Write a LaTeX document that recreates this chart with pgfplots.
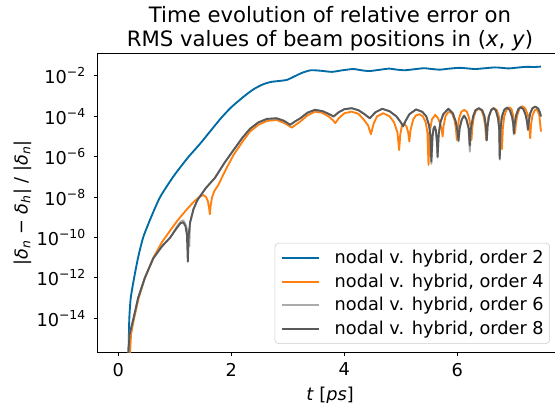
\documentclass[border=0pt]{standalone}
\usepackage{fontspec}
\setmainfont{DejaVu Sans}
\usepackage{pgfplots}
\usepackage{pgfplotstable}
\pgfplotsset{compat=1.18}
\definecolor{cA}{HTML}{006BA4}
\definecolor{cB}{HTML}{FF800E}
\definecolor{cC}{HTML}{ABABAB}
\definecolor{cD}{HTML}{595959}

% log10 of the relative error
\pgfplotstableread{
t L
0.178 -16.5
0.185 -15.2
0.195 -14.0
0.22 -13.0
0.28 -12.0
0.35 -11.0
0.44 -10.0
0.58 -9.0
0.74 -8.0
0.97 -7.0
1.23 -6.05
1.45 -5.35
1.80 -4.15
2.00 -3.55
2.24 -2.98
2.40 -2.65
2.56 -2.42
2.70 -2.30
2.85 -2.25
2.98 -2.20
3.10 -2.05
3.25 -1.85
3.41 -1.72
3.60 -1.75
3.78 -1.80
3.97 -1.72
4.16 -1.66
4.30 -1.72
4.44 -1.76
4.62 -1.70
4.79 -1.64
4.93 -1.69
5.07 -1.72
5.24 -1.67
5.41 -1.62
5.55 -1.66
5.69 -1.69
5.86 -1.64
6.04 -1.60
6.18 -1.63
6.32 -1.66
6.49 -1.62
6.66 -1.58
6.78 -1.60
6.91 -1.63
7.06 -1.59
7.22 -1.55
7.35 -1.56
7.48 -1.54
}\ordtwo

\pgfplotstableread{
t L
0.205 -16.5
0.212 -15.5
0.225 -14.8
0.28 -14.0
0.36 -13.0
0.47 -12.0
0.62 -11.0
0.78 -10.2
0.92 -9.65
1.05 -9.15
1.20 -8.65
1.33 -8.25
1.43 -8.0
1.50 -7.9
1.55 -7.98
1.585 -8.2
1.61 -8.6
1.62 -8.85
1.635 -8.4
1.66 -8.0
1.70 -7.7
1.77 -7.4
1.90 -6.65
2.04 -5.91
2.20 -5.25
2.33 -4.76
2.48 -4.42
2.63 -4.23
2.80 -4.18
2.95 -4.35
3.07 -4.56
3.15 -4.4
3.22 -4.26
3.35 -3.95
3.48 -3.77
3.60 -3.82
3.72 -4.0
3.80 -4.2
3.84 -4.34
3.90 -4.1
4.00 -3.85
4.13 -3.77
4.25 -3.88
4.34 -4.15
4.42 -4.45
4.47 -4.89
4.52 -4.35
4.58 -4.0
4.69 -3.85
4.80 -4.0
4.88 -4.3
4.94 -4.8
4.97 -5.67
4.99 -4.9
5.02 -4.45
5.05 -4.35
5.10 -4.5
5.13 -4.8
5.15 -5.25
5.17 -4.7
5.22 -4.15
5.27 -3.95
5.33 -3.9
5.39 -4.0
5.44 -4.3
5.47 -4.8
5.49 -6.41
5.51 -4.8
5.55 -4.15
5.61 -3.93
5.66 -4.1
5.70 -4.4
5.725 -4.7
5.74 -5.0
5.755 -4.5
5.79 -4.0
5.83 -3.82
5.87 -3.78
5.91 -3.88
5.95 -4.2
5.975 -4.6
5.99 -5.17
6.005 -4.6
6.03 -4.1
6.07 -3.78
6.12 -3.68
6.17 -3.78
6.21 -4.1
6.235 -4.55
6.25 -5.17
6.265 -4.55
6.29 -4.05
6.33 -3.72
6.38 -3.63
6.43 -3.72
6.47 -4.05
6.495 -4.55
6.51 -5.17
6.525 -4.55
6.55 -4.05
6.60 -3.7
6.65 -3.6
6.70 -3.7
6.74 -4.05
6.77 -4.6
6.79 -5.63
6.805 -4.6
6.83 -4.0
6.87 -3.68
6.92 -3.55
6.96 -3.65
6.99 -4.0
7.005 -4.4
7.02 -4.84
7.035 -4.4
7.06 -3.95
7.10 -3.62
7.15 -3.5
7.20 -3.6
7.25 -3.95
7.27 -4.4
7.29 -5.09
7.305 -4.4
7.33 -3.95
7.37 -3.7
7.41 -3.65
7.45 -3.95
7.48 -4.76
}\ordfour

\pgfplotstableread{
t L
0.175 -16.5
0.182 -15.5
0.20 -14.8
0.27 -14.0
0.35 -13.0
0.47 -12.0
0.62 -11.03
0.77 -10.45
0.92 -10.0
1.03 -9.5
1.10 -9.22
1.15 -9.15
1.19 -9.35
1.225 -9.7
1.245 -9.95
1.257 -10.45
1.27 -9.3
1.33 -8.6
1.40 -8.15
1.55 -7.55
1.71 -7.05
1.88 -6.3
2.04 -5.67
2.20 -5.05
2.33 -4.62
2.48 -4.3
2.63 -4.13
2.80 -4.1
2.93 -4.22
3.04 -4.42
3.13 -4.25
3.22 -4.1
3.35 -3.82
3.48 -3.68
3.62 -3.75
3.72 -3.88
3.81 -4.01
3.90 -3.8
4.00 -3.65
4.13 -3.6
4.25 -3.7
4.35 -3.88
4.45 -4.1
4.55 -3.8
4.67 -3.63
4.80 -3.75
4.92 -4.0
5.00 -4.3
5.04 -4.5
5.08 -4.25
5.15 -3.9
5.27 -3.66
5.38 -3.78
5.45 -4.0
5.50 -4.45
5.525 -5.0
5.54 -6.35
5.56 -5.0
5.58 -4.6
5.60 -4.5
5.62 -4.7
5.64 -5.3
5.65 -6.05
5.67 -4.9
5.70 -4.3
5.75 -3.9
5.84 -3.63
5.92 -3.85
5.97 -4.25
6.00 -4.7
6.02 -5.25
6.04 -4.6
6.08 -4.15
6.12 -3.97
6.16 -4.15
6.20 -4.6
6.22 -5.75
6.24 -4.6
6.28 -4.0
6.32 -3.7
6.38 -3.6
6.44 -3.7
6.48 -4.0
6.505 -4.5
6.52 -5.2
6.535 -4.5
6.56 -4.0
6.60 -3.68
6.64 -3.6
6.68 -3.7
6.72 -4.1
6.74 -4.6
6.75 -6.15
6.765 -4.6
6.79 -4.0
6.83 -3.68
6.88 -3.57
6.93 -3.7
6.97 -4.05
6.99 -4.4
7.00 -4.9
7.015 -4.35
7.04 -3.95
7.08 -3.64
7.12 -3.55
7.17 -3.65
7.21 -3.95
7.235 -4.3
7.25 -4.7
7.265 -4.25
7.29 -3.85
7.33 -3.6
7.38 -3.52
7.43 -3.62
7.46 -3.8
7.48 -4.01
}\ordsix

\pgfplotstableread{
t L
0.175 -16.5
0.182 -15.5
0.20 -14.8
0.27 -14.0
0.35 -13.0
0.47 -12.0
0.62 -11.03
0.77 -10.45
0.92 -10.0
1.03 -9.55
1.10 -9.3
1.15 -9.25
1.19 -9.45
1.215 -9.9
1.23 -11.2
1.245 -9.9
1.27 -9.25
1.33 -8.6
1.40 -8.15
1.55 -7.55
1.71 -7.05
1.88 -6.3
2.04 -5.67
2.20 -5.05
2.33 -4.62
2.48 -4.3
2.63 -4.13
2.80 -4.1
2.93 -4.22
3.04 -4.42
3.13 -4.25
3.22 -4.1
3.35 -3.82
3.48 -3.68
3.62 -3.75
3.72 -3.88
3.81 -4.01
3.90 -3.8
4.00 -3.65
4.13 -3.6
4.25 -3.7
4.35 -3.88
4.45 -4.1
4.55 -3.8
4.67 -3.63
4.80 -3.75
4.92 -4.0
5.00 -4.3
5.04 -4.5
5.08 -4.25
5.15 -3.9
5.27 -3.66
5.38 -3.78
5.45 -4.0
5.50 -4.45
5.525 -5.0
5.54 -6.24
5.56 -5.0
5.58 -4.6
5.60 -4.5
5.62 -4.7
5.64 -5.3
5.65 -6.0
5.67 -4.9
5.70 -4.3
5.75 -3.9
5.84 -3.63
5.92 -3.85
5.97 -4.25
6.00 -4.7
6.02 -5.2
6.04 -4.6
6.08 -4.15
6.12 -3.97
6.16 -4.15
6.20 -4.6
6.22 -5.45
6.24 -4.6
6.28 -4.0
6.32 -3.7
6.38 -3.6
6.44 -3.7
6.48 -4.0
6.505 -4.5
6.52 -5.2
6.535 -4.5
6.56 -4.0
6.60 -3.68
6.64 -3.6
6.68 -3.7
6.72 -4.1
6.74 -4.6
6.75 -6.1
6.765 -4.6
6.79 -4.0
6.83 -3.68
6.88 -3.57
6.93 -3.7
6.97 -4.05
6.99 -4.4
7.00 -4.84
7.015 -4.35
7.04 -3.95
7.08 -3.64
7.12 -3.55
7.17 -3.65
7.21 -3.95
7.235 -4.3
7.25 -4.65
7.265 -4.25
7.29 -3.85
7.33 -3.6
7.38 -3.52
7.43 -3.62
7.46 -3.8
7.48 -4.01
}\ordeight

\begin{document}
\begin{tikzpicture}
\begin{axis}[
    at={(0,0)}, anchor=south west,
    scale only axis, width=349.5pt, height=224.6pt,
    xmin=-0.377, xmax=7.87, ymin=-15.705, ymax=-0.876,
    xtick={0,2,4,6}, xticklabels={0,2,4,6},
    ytick={-14,-12,-10,-8,-6,-4,-2},
    yticklabel={\pgfmathtruncatemacro\ee{abs(\tick)}10\textsuperscript{−\ee}},
    xtick pos=lower, ytick pos=left,
    tick align=outside, major tick length=2.6pt,
    tick style={black, line width=0.6pt},
    axis line style={line width=0.6pt},
    tick label style={font=\fontsize{13.3}{16}\selectfont, inner sep=0pt},
    xticklabel shift=5pt, yticklabel shift=5.5pt,
    title={Time evolution of relative error on\\RMS values of beam positions in (\textit{x}, \textit{y})},
    title style={font=\fontsize{15.9}{18}\selectfont, align=center,
        at={(axis description cs:0.5,1)}, anchor=south, inner sep=0pt, yshift=-4.8pt},
    xlabel={\textit{t} [\textit{ps}]},
    xlabel style={font=\fontsize{13.3}{16}\selectfont, at={(axis description cs:0.5,0)},
        anchor=north, inner sep=0pt, yshift=-25.5pt},
    legend cell align=left,
    legend image code/.code={\draw[#1] (0pt,0pt) -- (27.75pt,0pt);},
    legend style={at={(0.972,0.029)}, anchor=south east, draw=black!20,
        rounded corners=3pt, fill=white, font=\fontsize{13.3}{16}\selectfont,
        inner xsep=4.5pt, inner ysep=5.5pt, row sep=6pt, column sep=11.25pt,
        nodes={inner sep=0pt}},
    every axis plot/.append style={line width=1.4pt, line join=round},
]
\addplot[cA, smooth, tension=0.4] table[x=t, y=L] {\ordtwo};
\addlegendentry{nodal v. hybrid, order 2}
\addplot[cB] table[x=t, y=L] {\ordfour};
\addlegendentry{nodal v. hybrid, order 4}
\addplot[cC] table[x=t, y=L] {\ordsix};
\addlegendentry{nodal v. hybrid, order 6}
\addplot[cD] table[x=t, y=L] {\ordeight};
\addlegendentry{nodal v. hybrid, order 8}
\end{axis}
% y label, set beside the tick labels
\node[rotate=90, anchor=south, inner sep=0pt, font=\fontsize{13.3}{16}\selectfont]
    at (-48.75pt,112.3pt)
    {|\textit{δ}\textsubscript{\textit{n}} − \textit{δ}\textsubscript{\textit{h}}| / |\textit{δ}\textsubscript{\textit{n}}|};
% the reference is cut just left of the right spine
\pgfresetboundingbox
\useasboundingbox (-72.75pt,-37.7pt) rectangle (343.5pt,264.5pt);
\end{tikzpicture}
\end{document}
